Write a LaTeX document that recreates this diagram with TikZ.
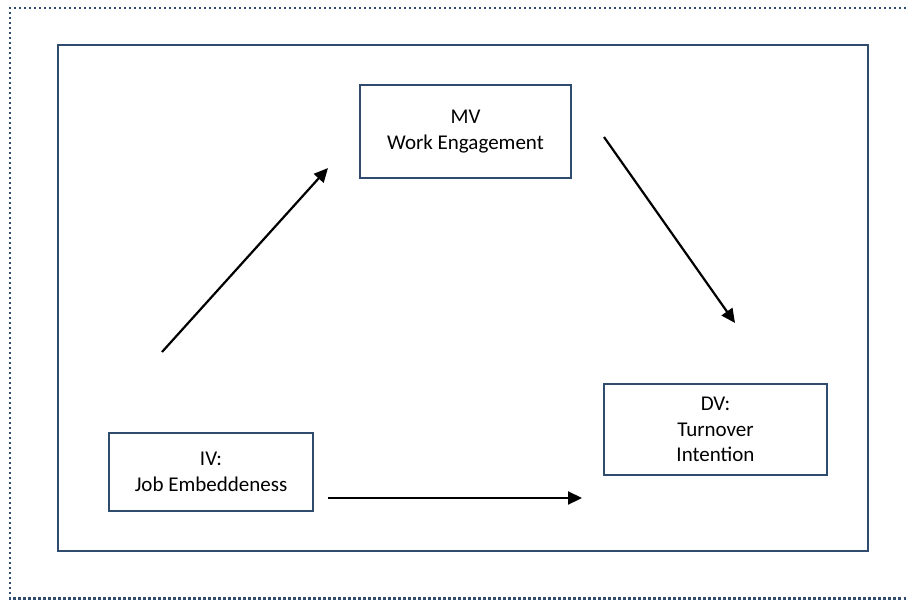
\documentclass[tikz,border=0pt]{standalone}
\usepackage{fontspec}
\setmainfont{Carlito}
\usepackage{tikz}
\usetikzlibrary{arrows.meta,positioning}
\definecolor{frame}{HTML}{2F4B6E}
\definecolor{ink}{HTML}{000000}

\begin{document}
\begin{tikzpicture}[
    x=1pt, y=-1pt,
    varbox/.style={rectangle, draw=frame, fill=white, text=ink,
                   line width=2.4pt, align=center, inner sep=0pt,
                   font=\fontsize{21}{25.5}\selectfont},
    link/.style={-{Triangle[length=14pt,width=13pt]}, line width=2.2pt, color=ink},
]
\useasboundingbox (0,0) rectangle (906,600);

% outer dotted frame and inner panel
\draw[frame, line width=2.2pt, dash pattern=on 2.2pt off 2.8pt]
    (906,8) -- (10,8) -- (10,598.5) -- (906,598.5);
\draw[frame, line width=2.6pt] (58,45) rectangle (868,551);

\node[varbox, minimum width=211pt, minimum height=93pt] (mv) at (465.5,131.5) {MV\\Work Engagement};
\node[varbox, minimum width=204pt, minimum height=78pt] (iv) at (211,472) {IV:\\Job Embeddeness};
\node[varbox, minimum width=223pt, minimum height=91pt] (dv) at (715.5,429.5) {DV:\\Turnover\\Intention};

% arrow end points
\coordinate (upstart) at (162,352);
\coordinate (upend) at (328,168);
\coordinate (downstart) at (604,137);
\coordinate (downend) at (735,323);
\coordinate (flatstart) at (328,498);
\coordinate (flatend) at (582,498);

\draw[link] (upstart) -- (upend);
\draw[link] (downstart) -- (downend);
\draw[link] (flatstart) -- (flatend);

\end{tikzpicture}
\end{document}
